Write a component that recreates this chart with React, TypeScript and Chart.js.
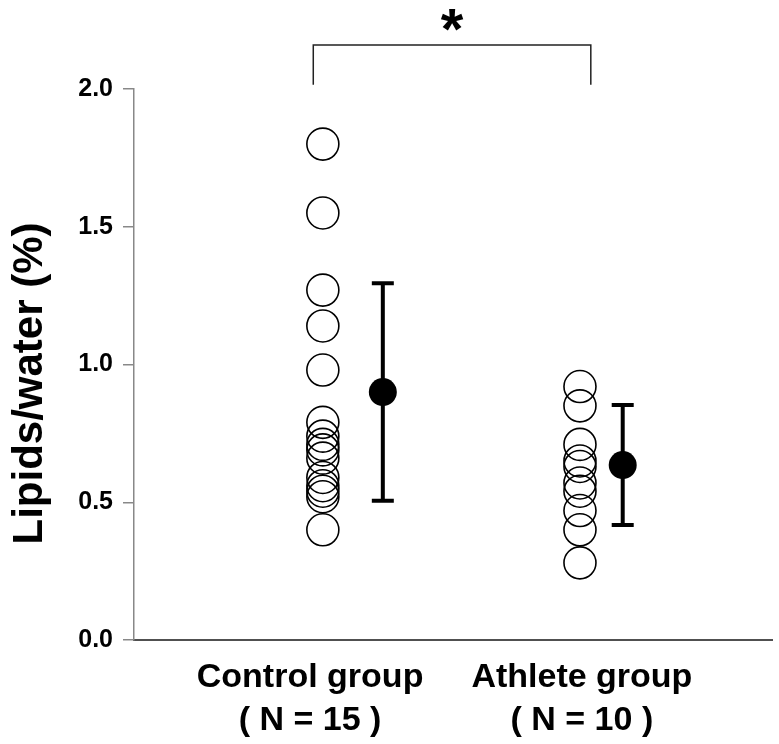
import React, { useEffect, useRef } from "react";
import { Chart, registerables } from "chart.js";
Chart.register(...registerables);

// ---- data ----
const categories = [
  ["Control group", "( N = 15 )"],
  ["Athlete group", "( N = 10 )"],
];
const controlValues = [1.8, 1.55, 1.27, 1.14, 0.98, 0.79, 0.74, 0.71, 0.69, 0.66, 0.59, 0.56, 0.54, 0.52, 0.4];
const athleteValues = [0.92, 0.85, 0.71, 0.65, 0.63, 0.57, 0.54, 0.47, 0.4, 0.28];
const groupMeans = [0.9, 0.635];
const groupSD = [0.395, 0.218];
const yTicks = [0, 0.5, 1.0, 1.5, 2.0];
const yAxisTitle = "Lipids/water (%)";
const significanceMark = "*";

// ---- layout (positions on a 0..10 linear x scale) ----
const LABEL_X = [2.76, 7.02];
const POINTS_X = [2.96, 6.99];
const MEAN_X = [3.9, 7.66];
const BRACKET_X = [2.81, 7.16];
const BRACKET_Y = [2.015, 2.16];

const FONT = "'Liberation Sans', Arial, sans-serif";

const annotations = {
  id: "annotations",
  beforeDatasetsDraw(chart: any) {
    const { ctx, scales } = chart;
    const x = scales.x;
    const y = scales.y;
    ctx.save();
    ctx.strokeStyle = "#000";
    ctx.lineWidth = 4;
    groupMeans.forEach((m, i) => {
      const px = x.getPixelForValue(MEAN_X[i]);
      const top = y.getPixelForValue(m + groupSD[i]);
      const bot = y.getPixelForValue(m - groupSD[i]);
      ctx.beginPath();
      ctx.moveTo(px, top);
      ctx.lineTo(px, bot);
      ctx.moveTo(px - 11, top);
      ctx.lineTo(px + 11, top);
      ctx.moveTo(px - 11, bot);
      ctx.lineTo(px + 11, bot);
      ctx.stroke();
    });
    ctx.restore();
  },
  afterDraw(chart: any) {
    const { ctx, scales } = chart;
    const x = scales.x;
    const y = scales.y;
    ctx.save();
    // significance bracket
    const x1 = x.getPixelForValue(BRACKET_X[0]);
    const x2 = x.getPixelForValue(BRACKET_X[1]);
    const yb = y.getPixelForValue(BRACKET_Y[0]);
    const yt = y.getPixelForValue(BRACKET_Y[1]);
    ctx.strokeStyle = "#222";
    ctx.lineWidth = 1.5;
    ctx.beginPath();
    ctx.moveTo(x1, yb);
    ctx.lineTo(x1, yt);
    ctx.lineTo(x2, yt);
    ctx.lineTo(x2, yb);
    ctx.stroke();
    ctx.fillStyle = "#000";
    ctx.font = `bold 58px ${FONT}`;
    ctx.textAlign = "center";
    ctx.textBaseline = "alphabetic";
    ctx.fillText(significanceMark, (x1 + x2) / 2, 49);
    // y-axis title
    ctx.translate(30, 383.5);
    ctx.rotate(-Math.PI / 2);
    ctx.font = `bold 42px ${FONT}`;
    ctx.textBaseline = "middle";
    ctx.fillText(yAxisTitle, 0, 0);
    ctx.restore();
  },
};

export default function App() {
  const ref = useRef<HTMLCanvasElement | null>(null);
  useEffect(() => {
    if (!ref.current) return;
    const chart = new Chart(ref.current, {
      type: "scatter",
      data: {
        datasets: [
          {
            label: "Control",
            data: controlValues.map((v) => ({ x: POINTS_X[0], y: v })),
            pointRadius: 16,
            pointBackgroundColor: "rgba(0,0,0,0)",
            pointBorderColor: "#000",
            pointBorderWidth: 1.6,
          },
          {
            label: "Athlete",
            data: athleteValues.map((v) => ({ x: POINTS_X[1], y: v })),
            pointRadius: 16,
            pointBackgroundColor: "rgba(0,0,0,0)",
            pointBorderColor: "#000",
            pointBorderWidth: 1.6,
          },
          {
            label: "Mean",
            data: groupMeans.map((m, i) => ({ x: MEAN_X[i], y: m })),
            pointRadius: 14,
            pointBackgroundColor: "#000",
            pointBorderColor: "#000",
            pointBorderWidth: 0,
          },
        ],
      },
      options: {
        responsive: false,
        animation: false,
        layout: { autoPadding: false, padding: { top: 89, right: 7, left: 0, bottom: 0 } },
        plugins: { legend: { display: false }, tooltip: { enabled: false } },
        scales: {
          x: {
            type: "linear",
            min: 0,
            max: 10,
            afterFit: (s: any) => {
              s.height = 104;
            },
            afterBuildTicks: (s: any) => {
              s.ticks = LABEL_X.map((v) => ({ value: v }));
            },
            grid: { display: false, drawTicks: false },
            border: { display: true, color: "#505050", width: 2 },
            ticks: {
              autoSkip: false,
              maxRotation: 0,
              padding: 16,
              color: "#000",
              font: { family: FONT, size: 34, weight: "bold", lineHeight: 1.27 },
              callback: (_v: any, i: number) => categories[i],
            },
          },
          y: {
            min: 0,
            max: 2,
            afterFit: (s: any) => {
              s.width = 134;
            },
            afterBuildTicks: (s: any) => {
              s.ticks = yTicks.map((v) => ({ value: v }));
            },
            grid: { drawOnChartArea: false, drawTicks: true, tickLength: 11, color: "#888", lineWidth: 1.5 },
            border: { display: true, color: "#888", width: 1.5 },
            ticks: {
              padding: 10,
              color: "#000",
              font: { family: FONT, size: 25, weight: "bold" },
              callback: (v: any) => Number(v).toFixed(1),
            },
          },
        },
      },
      plugins: [annotations],
    } as any);
    return () => chart.destroy();
  }, []);
  return (
    <div style={{ position: "fixed", left: 0, top: 0, width: 779, height: 744, background: "#fff" }}>
      <canvas ref={ref} width={779} height={744} />
    </div>
  );
}
